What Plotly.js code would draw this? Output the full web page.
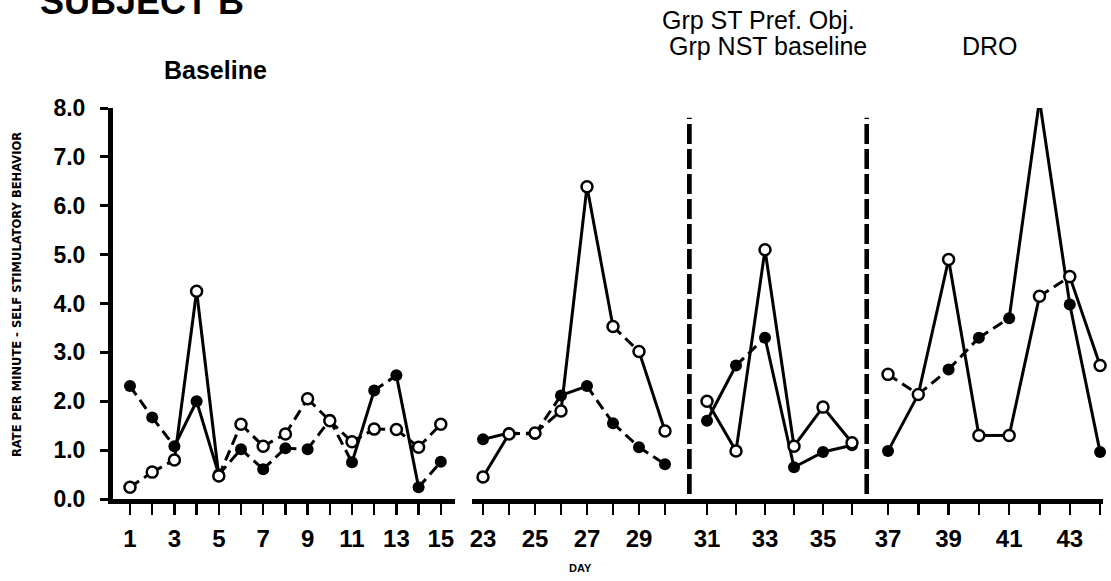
<!DOCTYPE html>
<html>
<head>
<meta charset="utf-8">
<script src="https://cdn.plot.ly/plotly-3.0.1.min.js"></script>
<style>html,body{margin:0;padding:0;background:#fff}#chart{width:1111px;height:581px}</style>
</head>
<body>
<div id="chart"></div>
<script>
// ---- Data ----
// Baseline, part 1
const days1   = [1,2,3,4,5,6,7,8,9,10,11,12,13,14,15];
const filled1 = [2.31,1.67,1.08,2.0,0.5,1.02,0.61,1.04,1.02,1.62,0.75,2.22,2.53,0.24,0.76];
const open1   = [0.24,0.55,0.8,4.25,0.47,1.53,1.08,1.33,2.05,1.6,1.17,1.43,1.42,1.06,1.53];
// Baseline, part 2
const days2   = [23,24,25,26,27,28,29,30];
const filled2 = [1.22,1.35,1.33,2.12,2.31,1.55,1.06,0.71];
const open2   = [0.45,1.33,1.35,1.8,6.39,3.53,3.02,1.39];
// Grp ST Pref. Obj. / Grp NST baseline
const days3   = [31,32,33,34,35,36];
const filled3 = [1.6,2.73,3.3,0.65,0.96,1.1];
const open3   = [2.0,0.98,5.1,1.08,1.88,1.15];
// DRO
const days4   = [37,38,39,40,41,42,43,44];
const filled4 = [0.98,2.14,2.65,3.3,3.7,8.16,3.98,0.96];
const open4   = [2.55,2.14,4.9,1.3,1.3,4.15,4.55,2.73];

const tickLabels1 = ['1','3','5','7','9','11','13','15'];
const tickLabels2 = ['23','25','27','29','31','33','35','37','39','41','43'];
const yTickVals   = [0,1,2,3,4,5,6,7,8];
const yTickText   = ['0.0','1.0','2.0','3.0','4.0','5.0','6.0','7.0','8.0'];
const phaseLines  = [30.3, 36.6];

// ---- Line styles per segment (s = solid, d = dashed) ----
const segStyles = {
  f1:'ddssddddddsdsd', o1:'ddssdddddddddd',
  f2:'sddsddd',        o2:'sddssds',
  f3:'sdsss',          o3:'sssss',
  f4:'sdddsss',        o4:'dssssds'
};

// ---- Pixel geometry helpers ----
const L = 113, R = 1103, T = 108, B = 499;
const fx = px => (px - L) / (R - L);
const fy = py => (B - py) / (B - T);

const FONT = 'Liberation Sans, Arial, Helvetica, sans-serif';
const traces = [];

function addSeries(days, vals, styles, axis) {
  const sx = [], sy = [], dx = [], dy = [];
  for (let i = 0; i < days.length - 1; i++) {
    const solid = styles[i] === 's';
    (solid ? sx : dx).push(days[i], days[i+1], null);
    (solid ? sy : dy).push(vals[i], vals[i+1], null);
  }
  traces.push({x:sx, y:sy, xaxis:axis, yaxis:'y', mode:'lines', type:'scatter',
    line:{color:'#000', width:3}, hoverinfo:'skip', cliponaxis:false});
  traces.push({x:dx, y:dy, xaxis:axis, yaxis:'y', mode:'lines', type:'scatter',
    line:{color:'#000', width:3, dash:'11px,6px'}, hoverinfo:'skip', cliponaxis:false});
}
function addMarkers(days, vals, axis, isOpen) {
  traces.push({x:days, y:vals, xaxis:axis, yaxis:'y', mode:'markers', type:'scatter',
    cliponaxis:false,
    marker: isOpen ? {symbol:'circle', size:11, color:'#fff', line:{color:'#000', width:2.5}}
                   : {symbol:'circle', size:12, color:'#000', line:{color:'#000', width:0}}});
}

const groups = [
  [days1, filled1, open1, 'x',  segStyles.f1, segStyles.o1],
  [days2, filled2, open2, 'x2', segStyles.f2, segStyles.o2],
  [days3, filled3, open3, 'x3', segStyles.f3, segStyles.o3],
  [days4, filled4, open4, 'x4', segStyles.f4, segStyles.o4]
];
groups.forEach(g => { addSeries(g[0], g[1], g[4], g[3]); addSeries(g[0], g[2], g[5], g[3]); });
groups.forEach(g => { addMarkers(g[0], g[1], g[3], false); addMarkers(g[0], g[2], g[3], true); });

const allLabels = tickLabels1.concat(tickLabels2);
function xAxis(days, domainPx, range) {
  return {
    domain:[fx(domainPx[0]), fx(domainPx[1])], range:range, anchor:'y',
    showline:true, linecolor:'#000', linewidth:5, mirror:false,
    ticks:'outside', ticklen:11, tickwidth:2.5, tickcolor:'#000',
    tickvals:days, ticktext:days.map(d => allLabels.includes(String(d)) ? String(d) : ''),
    tickfont:{family:FONT, size:24, color:'#000', weight:'bold'}, ticklabelstandoff:3,
    showgrid:false, zeroline:false, fixedrange:true
  };
}

const layout = {
  width:1111, height:581,
  margin:{l:L, r:1111-R, t:T, b:581-B, pad:0},
  paper_bgcolor:'#fff', plot_bgcolor:'#fff', showlegend:false,
  xaxis:  xAxis(days1, [113, 455], [0.234, 15.64]),
  xaxis2: xAxis(days2, [472, 687], [22.577, 30.846]),
  xaxis3: xAxis(days3, [687, 869], [30.31, 36.586]),
  xaxis4: xAxis(days4, [869, 1103], [36.373, 44.096]),
  yaxis: {
    domain:[0,1], range:[0,8], anchor:'x',
    showline:true, linecolor:'#000', linewidth:5,
    ticks:'outside', ticklen:8, tickwidth:3, tickcolor:'#000',
    tickvals:yTickVals, ticktext:yTickText,
    tickfont:{family:FONT, size:23, color:'#000', weight:'bold'}, ticklabelstandoff:10,
    showgrid:false, zeroline:false, fixedrange:true
  },
  shapes: phaseLines.map(v => ({
    type:'line', xref:'x3', yref:'y', x0:v, x1:v, y0:0.1, y1:7.8,
    line:{color:'#000', width:10, dash:'20px,5px'}
  })),
  annotations: [
    {text:'SUBJECT B', xref:'paper', yref:'paper', x:fx(38), y:fy(1), xanchor:'left', yanchor:'middle',
     showarrow:false, font:{family:FONT, size:36, color:'#000', weight:'bold'}},
    {text:'Baseline', xref:'paper', yref:'paper', x:fx(215), y:fy(70), xanchor:'center', yanchor:'middle',
     showarrow:false, font:{family:FONT, size:25, color:'#000', weight:'bold'}},
    {text:'Grp ST Pref. Obj.', xref:'paper', yref:'paper', x:fx(758), y:fy(20), xanchor:'center', yanchor:'middle',
     showarrow:false, font:{family:FONT, size:25, color:'#000'}},
    {text:'Grp NST baseline', xref:'paper', yref:'paper', x:fx(768), y:fy(46), xanchor:'center', yanchor:'middle',
     showarrow:false, font:{family:FONT, size:25, color:'#000'}},
    {text:'DRO', xref:'paper', yref:'paper', x:fx(990), y:fy(46), xanchor:'center', yanchor:'middle',
     showarrow:false, font:{family:FONT, size:25, color:'#000'}},
    {text:'RATE PER MINUTE - SELF STIMULATORY BEHAVIOR', xref:'paper', yref:'paper', x:fx(17), y:fy(295),
     xanchor:'center', yanchor:'middle', textangle:-90, showarrow:false,
     font:{family:'DejaVu Sans, sans-serif', size:11.5, color:'#000', weight:'bold'}},
    {text:'DAY', xref:'paper', yref:'paper', x:fx(580), y:fy(568), xanchor:'center', yanchor:'middle',
     showarrow:false, font:{family:FONT, size:11, color:'#000', weight:'bold'}}
  ]
};

Plotly.newPlot('chart', traces, layout, {staticPlot:true, displayModeBar:false});
</script>
</body>
</html>
